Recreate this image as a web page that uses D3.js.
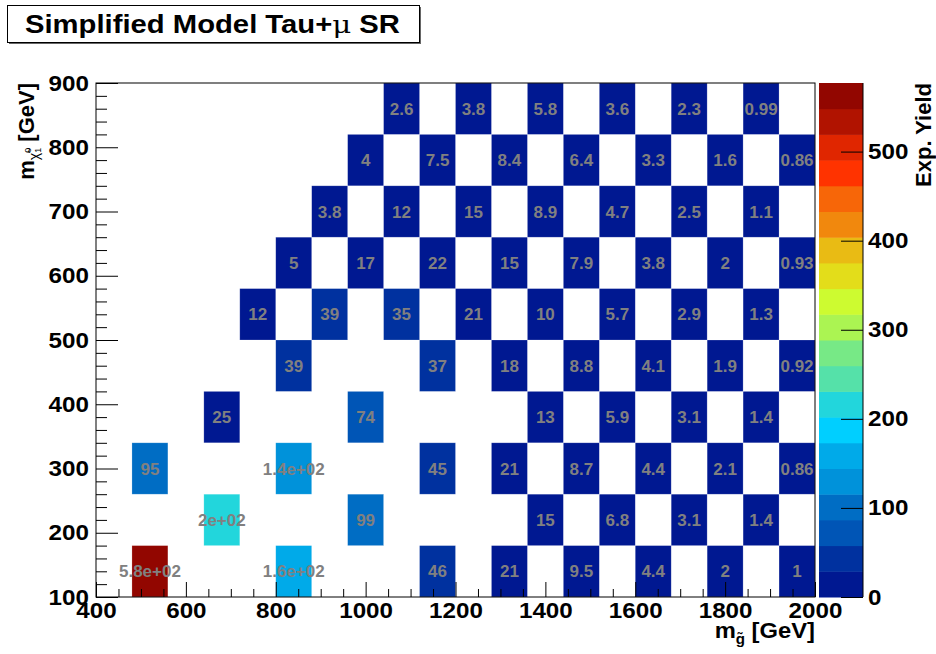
<!DOCTYPE html>
<html>
<head>
<meta charset="utf-8">
<script src="https://cdn.jsdelivr.net/npm/d3@7"></script>
<style>
  html, body { margin: 0; padding: 0; background: #fff; }
  svg { display: block; }
  text { font-family: "Liberation Sans", Arial, Helvetica, sans-serif; font-weight: bold; }
</style>
</head>
<body>
<svg id="chart" width="936" height="654"></svg>
<script>
// Expected signal yield per (gluino, neutralino) mass point, 80 GeV bins
const gluinoMass = [
  520, 840, 1160, 1320, 1480, 1640, 1800, 1960,
  680, 1000, 1400, 1560, 1720, 1880,
  520, 840, 1160, 1320, 1480, 1640, 1800, 1960,
  680, 1000, 1400, 1560, 1720, 1880,
  840, 1160, 1320, 1480, 1640, 1800, 1960,
  760, 920, 1080, 1240, 1400, 1560, 1720, 1880,
  840, 1000, 1160, 1320, 1480, 1640, 1800, 1960,
  920, 1080, 1240, 1400, 1560, 1720, 1880,
  1000, 1160, 1320, 1480, 1640, 1800, 1960,
  1080, 1240, 1400, 1560, 1720, 1880
];
const neutralinoMass = [
  140, 140, 140, 140, 140, 140, 140, 140,
  220, 220, 220, 220, 220, 220,
  300, 300, 300, 300, 300, 300, 300, 300,
  380, 380, 380, 380, 380, 380,
  460, 460, 460, 460, 460, 460, 460,
  540, 540, 540, 540, 540, 540, 540, 540,
  620, 620, 620, 620, 620, 620, 620, 620,
  700, 700, 700, 700, 700, 700, 700,
  780, 780, 780, 780, 780, 780, 780,
  860, 860, 860, 860, 860, 860
];
const expYield = [
  577, 160, 46, 21, 9.5, 4.4, 2, 1,
  204, 99, 15, 6.8, 3.1, 1.4,
  95, 140, 45, 21, 8.7, 4.4, 2.1, 0.86,
  25, 74, 13, 5.9, 3.1, 1.4,
  39, 37, 18, 8.8, 4.1, 1.9, 0.92,
  12, 39, 35, 21, 10, 5.7, 2.9, 1.3,
  5, 17, 22, 15, 7.9, 3.8, 2, 0.93,
  3.8, 12, 15, 8.9, 4.7, 2.5, 1.1,
  4, 7.5, 8.4, 6.4, 3.3, 1.6, 0.86,
  2.6, 3.8, 5.8, 3.6, 2.3, 0.99
];
const binWidth = 80;
const xTicks = [400, 600, 800, 1000, 1200, 1400, 1600, 1800, 2000];
const yTicks = [100, 200, 300, 400, 500, 600, 700, 800, 900];
const zTicks = [0, 100, 200, 300, 400, 500];

(function () {
  // Gradient palette (dark blue -> cyan -> yellow -> red -> dark red), 50 colours, 20 contours
  const stops = [0.00, 0.34, 0.61, 0.84, 1.00];
  const red   = [0.00, 0.00, 0.87, 1.00, 0.51];
  const green = [0.00, 0.81, 1.00, 0.20, 0.00];
  const blue  = [0.51, 1.00, 0.12, 0.00, 0.00];
  const nColors = 50, nContours = 20;
  const palette = [];
  for (let g = 1; g < stops.length; g++) {
    const n = Math.floor(stops[g] * nColors) - Math.floor(stops[g - 1] * nColors);
    for (let c = 0; c < n; c++) {
      const f = c / n;
      palette.push(d3.rgb(
        255 * (red[g - 1] + f * (red[g] - red[g - 1])),
        255 * (green[g - 1] + f * (green[g] - green[g - 1])),
        255 * (blue[g - 1] + f * (blue[g] - blue[g - 1]))
      ).formatHex());
    }
  }
  const zMax = d3.max(expYield);
  const contourColor = k => palette[Math.min(nColors - 1, Math.floor((k + 0.99) * nColors / nContours))];
  const colorOf = v => contourColor(Math.min(nContours - 1, Math.floor(v / (zMax / nContours))));

  // "%.2g"-style labels
  function fmt(v) {
    const e = Math.floor(Math.log10(Math.abs(v)));
    if (e >= 2 || e < -4) {
      let [m, ex] = v.toExponential(1).split("e");
      m = m.replace(/\.0$/, "");
      const sign = ex[0] === "-" ? "-" : "+";
      ex = ex.replace(/[+-]/, "").padStart(2, "0");
      return m + "e" + sign + ex;
    }
    return String(parseFloat(v.toPrecision(2)));
  }

  // Widen a text slightly, keeping its anchor
  function widen(sel, factor) {
    sel.each(function () {
      const w = this.getComputedTextLength();
      if (w > 0) d3.select(this).attr("textLength", w * factor).attr("lengthAdjust", "spacingAndGlyphs");
    });
  }

  const svg = d3.select("#chart");
  svg.append("rect").attr("width", 936).attr("height", 654).attr("fill", "#fff");

  const pLeft = 96, pRight = 815, pTop = 83, pBottom = 597;
  const x = d3.scaleLinear().domain([400, 2000]).range([pLeft, pRight]);
  const y = d3.scaleLinear().domain([100, 900]).range([pBottom, pTop]);

  // Cells
  const cells = gluinoMass.map((g, i) => ({ g, n: neutralinoMass[i], v: expYield[i] }));
  const gCells = svg.append("g");
  gCells.selectAll("rect").data(cells).join("rect")
    .attr("x", d => x(d.g - binWidth / 2))
    .attr("y", d => y(d.n + binWidth / 2))
    .attr("width", d => x(d.g + binWidth / 2) - x(d.g - binWidth / 2))
    .attr("height", d => y(d.n - binWidth / 2) - y(d.n + binWidth / 2))
    .attr("fill", d => colorOf(d.v))
    .attr("stroke", "rgba(255,255,255,0.35)")
    .attr("stroke-width", 0.6);
  gCells.selectAll("text").data(cells).join("text")
    .attr("x", d => x(d.g))
    .attr("y", d => y(d.n))
    .attr("dy", "0.36em")
    .attr("text-anchor", "middle")
    .attr("font-size", 17)
    .attr("fill", "#808080")
    .text(d => fmt(d.v));

  // Axes (ticks drawn inside the frame)
  const axisFont = 22;
  svg.append("g").attr("transform", `translate(0,${pBottom})`)
    .call(d3.axisBottom(x).tickValues(xTicks).tickSize(-15).tickPadding(5).tickFormat(d3.format("d")));
  svg.append("g").attr("transform", `translate(0,${pBottom})`)
    .call(d3.axisBottom(x).tickValues(d3.range(450, 2000, 50).filter(v => v % 200 !== 0)).tickSize(-8).tickFormat(""));
  svg.append("g").attr("transform", `translate(${pLeft},0)`)
    .call(d3.axisLeft(y).tickValues(yTicks).tickSize(-22).tickPadding(7).tickFormat(d3.format("d")));
  svg.append("g").attr("transform", `translate(${pLeft},0)`)
    .call(d3.axisLeft(y).tickValues(d3.range(120, 900, 20).filter(v => v % 100 !== 0)).tickSize(-11).tickFormat(""));
  svg.selectAll(".domain").remove();
  svg.selectAll(".tick line").attr("stroke", "#000").attr("stroke-width", 1);
  svg.selectAll(".tick text").attr("font-size", axisFont).attr("fill", "#000")
    .attr("font-family", "'Liberation Sans', Arial, sans-serif").attr("font-weight", "bold");

  // Frame
  svg.append("rect").attr("x", pLeft).attr("y", pTop).attr("width", pRight - pLeft).attr("height", pBottom - pTop)
    .attr("fill", "none").attr("stroke", "#000").attr("stroke-width", 1);

  // Colour bar
  const cbLeft = 819, cbRight = 863;
  const z = d3.scaleLinear().domain([0, zMax]).range([pBottom, pTop]);
  const bandStep = zMax / nContours;
  svg.append("g").selectAll("rect").data(d3.range(nContours)).join("rect")
    .attr("x", cbLeft).attr("width", cbRight - cbLeft)
    .attr("y", k => z((k + 1) * bandStep))
    .attr("height", k => z(k * bandStep) - z((k + 1) * bandStep) + 0.5)
    .attr("fill", k => contourColor(k));
  const zAxis = svg.append("g").attr("transform", `translate(${cbRight},0)`)
    .call(d3.axisRight(z).tickValues(zTicks).tickSize(-22).tickPadding(5).tickFormat(d3.format("d")));
  zAxis.select(".domain").attr("stroke", "#000").attr("d", `M0,${pTop}V${pBottom}`);
  zAxis.selectAll(".tick line").attr("stroke", "#000");
  zAxis.selectAll(".tick text").attr("font-size", axisFont).attr("fill", "#000")
    .attr("font-family", "'Liberation Sans', Arial, sans-serif").attr("font-weight", "bold");

  widen(svg.selectAll(".tick text"), 1.1);

  // Axis titles
  const xt = svg.append("text").attr("x", pRight).attr("y", 638).attr("text-anchor", "end").attr("font-size", 22);
  xt.append("tspan").text("m");
  xt.append("tspan").attr("font-size", 14).attr("dy", 6).text("g\u0303");
  xt.append("tspan").attr("dy", -6).text(" [GeV]");
  widen(xt, 1.08);

  const yt = svg.append("text").attr("transform", `translate(34,${pTop}) rotate(-90)`)
    .attr("text-anchor", "end").attr("font-size", 22);
  yt.append("tspan").text("m");
  yt.append("tspan").attr("font-size", 14).attr("font-weight", "normal").attr("dy", 5).text("\u03C7\u0303");
  yt.append("tspan").attr("font-size", 9).attr("font-weight", "normal").attr("dy", -8).text("0");
  yt.append("tspan").attr("font-size", 9).attr("font-weight", "normal").attr("dx", -5).attr("dy", 10).text("1");
  yt.append("tspan").attr("dy", -7).text(" [GeV]");

  svg.append("text").attr("transform", `translate(931,${pTop}) rotate(-90)`)
    .attr("text-anchor", "end").attr("font-size", 22).text("Exp. Yield");

  // Title box
  svg.append("rect").attr("x", 9).attr("y", 7).attr("width", 412).attr("height", 37).attr("fill", "#666");
  svg.append("rect").attr("x", 7.5).attr("y", 5.5).attr("width", 412).attr("height", 37)
    .attr("fill", "#fff").attr("stroke", "#000").attr("stroke-width", 1);
  const title = svg.append("text").attr("x", 25).attr("y", 33).attr("font-size", 25)
    .attr("textLength", 375).attr("lengthAdjust", "spacingAndGlyphs");
  title.append("tspan").text("Simplified Model Tau+");
  title.append("tspan").attr("font-weight", "normal").attr("font-family", "'DejaVu Serif', serif").text("\u03BC");
  title.append("tspan").text(" SR");
})();
</script>
</body>
</html>
